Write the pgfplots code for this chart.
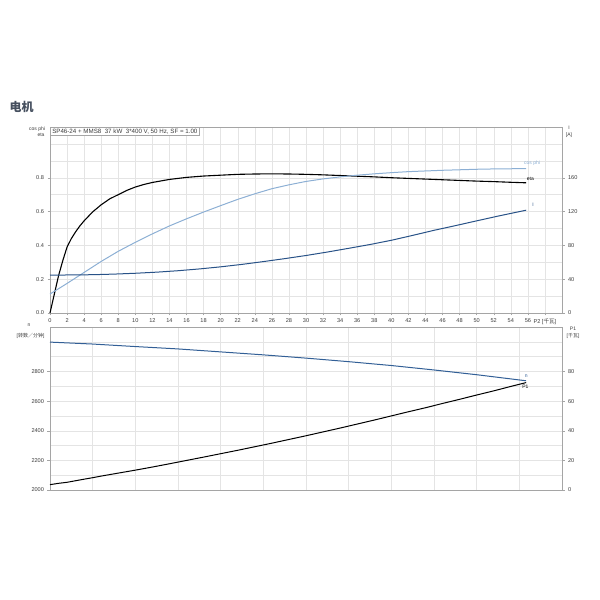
\documentclass[border=0pt]{standalone}
\usepackage{fontspec}
\setmainfont{Liberation Sans}
\newfontfamily\cjk{Noto Sans CJK SC}
\usepackage{pgfplots}
\pgfplotsset{compat=1.18}
\definecolor{cosphi}{RGB}{140,175,212}
\definecolor{icol}{RGB}{40,82,135}
\definecolor{ncol}{RGB}{50,95,150}
\definecolor{gridc}{RGB}{228,228,228}
\definecolor{framec}{RGB}{165,165,165}
\definecolor{txt}{RGB}{60,60,60}
\definecolor{head}{RGB}{70,80,95}
\pgfplotsset{mystyle/.style={
  scale only axis, width=512pt, xmin=0, xmax=60,
  axis line style={framec, line width=0.5pt},
  tick style={framec, line width=0.4pt},
  major tick length=2.5pt, minor tick length=0pt, tick align=outside,
  tick label style={font=\fontsize{5.6}{6}\selectfont, text=txt},
  /pgf/number format/assume math mode=true,
  /pgf/number format/set thousands separator={},
  grid style={gridc, line width=0.4pt},
  clip=false,
}}
\begin{document}
\begin{tikzpicture}
\path[use as bounding box] (0,0) rectangle (600pt,600pt);
\node[anchor=west, text=head, font=\cjk\bfseries\fontsize{12}{14}\selectfont] at (6pt,493pt) {电机};
% ---------- top axis ----------
\begin{axis}[mystyle, at={(50pt,287pt)}, anchor=south west, height=186pt,
  ymin=0, ymax=1.1,
  xtick={0,2,...,58},
  xticklabels={0,2,4,6,8,10,12,14,16,18,20,22,24,26,28,30,32,34,36,38,40,42,44,46,48,50,52,54,56,{P2 [{\cjk 千瓦}]}},
  ytick={0,0.2,0.4,0.6,0.8}, yticklabels={0.0,0.2,0.4,0.6,0.8},
  minor ytick={0.1,0.3,0.5,0.7,0.9,1.0},
  xmajorgrids, ymajorgrids, yminorgrids,
  ytick pos=left, xtick pos=lower]
\addplot[black, line width=1.1pt] coordinates {
(0,0) (0.5,0.11) (1,0.22) (1.5,0.31) (2,0.39) (2.5,0.44) (3,0.48) (3.5,0.515) (4,0.545) (5,0.598) (6,0.64) (7,0.675) (8,0.70) (9,0.725) (10,0.745) (11,0.76) (12,0.772) (14,0.79) (16,0.802) (18,0.81) (20,0.815) (22,0.82) (24,0.822) (26,0.823) (28,0.822) (30,0.82) (32,0.817) (34,0.813) (36,0.809) (38,0.805) (40,0.80) (42,0.796) (44,0.792) (46,0.788) (48,0.784) (50,0.78) (52,0.777) (54,0.773) (55.8,0.77)};
\addplot[cosphi, line width=1pt] coordinates {
(0,0.112) (2,0.175) (4,0.24) (6,0.305) (8,0.365) (10,0.418) (12,0.468) (14,0.515) (16,0.557) (18,0.597) (20,0.635) (22,0.672) (24,0.705) (26,0.735) (28,0.758) (30,0.778) (32,0.793) (34,0.805) (36,0.815) (38,0.823) (40,0.83) (42,0.836) (44,0.84) (46,0.844) (48,0.847) (50,0.85) (52,0.852) (54,0.853) (55.8,0.854)};
\node[text=cosphi, font=\fontsize{5}{6}\selectfont] at (axis cs:56.5,0.885) {cos phi};
\node[text=black, font=\fontsize{5}{6}\selectfont] at (axis cs:56.3,0.795) {eta};
\node[draw=framec, fill=white, anchor=north west, inner xsep=2pt, inner ysep=1.5pt, line width=0.5pt,
  font=\fontsize{6.2}{7}\selectfont, text=txt] at (rel axis cs:0,1) {SP46-24 + MMS8\ \ 37 kW\ \ 3*400 V, 50 Hz, SF = 1.00};
\end{axis}
\begin{axis}[mystyle, at={(50pt,287pt)}, anchor=south west, height=186pt,
  ymin=0, ymax=220, axis x line=none, axis y line*=right,
  ytick={0,40,80,120,160}]
\addplot[icol, line width=1pt] coordinates {
(0,44.8) (2.5,45) (5,45.3) (7.5,46) (10,47) (12.5,48.3) (15,50) (17.5,52.1) (20,54.6) (22.5,57.5) (25,60.8) (27.5,64.3) (30,68) (32.5,72.1) (35,76.5) (37.5,81) (40,86) (42.5,91.8) (45,97.8) (47.5,103.3) (50,109) (52.5,114.6) (55.8,121.6)};
\node[text=icol, font=\fontsize{5}{6}\selectfont] at (axis cs:56.6,128) {I};
\end{axis}
% ---------- bottom axis ----------
\begin{axis}[mystyle, at={(50pt,110pt)}, anchor=south west, height=163pt,
  ymin=2000, ymax=3100,
  xtick={0,5,...,55}, xticklabels={}, xtick style={draw=none},
  ytick={2000,2200,2400,2600,2800},
  minor ytick={2100,2300,2500,2700,2900,3000},
  xmajorgrids, ymajorgrids, yminorgrids,
  ytick pos=left]
\addplot[ncol, line width=1pt] coordinates {
(0,2998) (5,2985) (10,2968) (15,2952) (20,2932) (25,2912) (30,2890) (35,2866) (40,2840) (45,2810) (50,2778) (55.8,2737)};
\node[text=ncol, font=\fontsize{5}{6}\selectfont] at (axis cs:55.8,2768) {n};
\end{axis}
\begin{axis}[mystyle, at={(50pt,110pt)}, anchor=south west, height=163pt,
  ymin=0, ymax=110, axis x line=none, axis y line*=right,
  ytick={0,20,40,60,80}]
\addplot[black, line width=1pt] coordinates {
(0,3.6) (1,4.5) (2,5.2) (3,6.25) (4,7.3) (5,8.3) (6,9.4) (8,11.4) (10,13.4) (12,15.5) (14,17.7) (16,19.95) (18,22.2) (20,24.5) (22,26.8) (24,29.2) (26,31.6) (28,34.1) (30,36.6) (32,39.2) (34,41.8) (36,44.5) (38,47.2) (40,50) (42,52.8) (44,55.5) (46,58.4) (48,61.2) (50,64.1) (52,66.9) (54,69.9) (55.8,72.5)};
\node[text=black, font=\fontsize{5}{6}\selectfont] at (axis cs:55.7,69.5) {P1};
\end{axis}
% ---------- axis labels ----------
\node[anchor=east, text=txt, font=\fontsize{5}{6}\selectfont] at (48.5pt,471pt) {cos phi};
\node[anchor=east, text=txt, font=\fontsize{5}{6}\selectfont] at (48pt,465pt) {eta};
\node[text=txt, font=\fontsize{5}{6}\selectfont] at (569pt,472pt) {I};
\node[text=txt, font=\fontsize{5}{6}\selectfont] at (569pt,465pt) {[A]};
\node[text=txt, font=\fontsize{5}{6}\selectfont] at (29pt,275pt) {n};
\node[anchor=east, text=txt, font=\fontsize{5}{6}\selectfont] at (48pt,264pt) {[{\cjk 转数／分钟}]};
\node[text=txt, font=\fontsize{5}{6}\selectfont] at (573pt,271pt) {P1};
\node[text=txt, font=\fontsize{5}{6}\selectfont] at (573pt,264pt) {[{\cjk 千瓦}]};
\end{tikzpicture}
\end{document}
